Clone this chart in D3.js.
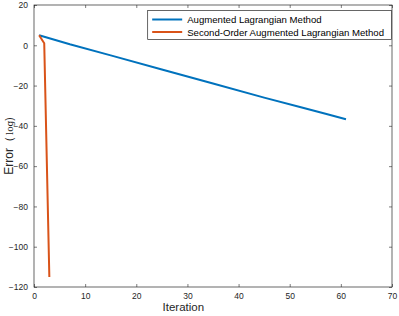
<!DOCTYPE html>
<html>
<head>
<meta charset="utf-8">
<script src="https://cdn.jsdelivr.net/npm/d3@7"></script>
<style>
  body { margin: 0; background: #fff; }
  text { font-family: "Liberation Sans", Arial, sans-serif; }
</style>
</head>
<body>
<script>
// series
var almIter = [1, 3, 7, 15, 25, 35, 45, 52, 57, 61];
var almErr = [5, 3.5, 0.5, -5, -12, -19, -26, -30.6, -34, -36.7];
var soIter = [1, 2, 3];
var soErr = [5, 1, -115];
var seriesNames = ["Augmented Lagrangian Method", "Second-Order Augmented Lagrangian Method"];
var colors = ["#0072BD", "#D95319"];
var xTicks = [0, 10, 20, 30, 40, 50, 60, 70];
var yTicks = [20, 0, -20, -40, -60, -80, -100, -120];

var W = 399, H = 316,
    margin = {top: 5, right: 7, bottom: 29, left: 34},
    width = W - margin.left - margin.right,
    height = H - margin.top - margin.bottom;

var svg = d3.select("body").append("svg")
    .attr("width", W)
    .attr("height", H);

var g = svg.append("g")
    .attr("transform", "translate(" + margin.left + "," + margin.top + ")");

var x = d3.scaleLinear().domain([0, 70]).range([0, width]);
var y = d3.scaleLinear().domain([-120, 20]).range([height, 0]);

var axisColor = "#262626";

function styleAxis(sel, showLabels) {
    sel.select(".domain").remove();
    sel.selectAll("line").attr("stroke", axisColor).attr("stroke-width", 0.6);
    sel.selectAll("text")
        .attr("fill", axisColor)
        .style("font-size", "8.5px");
    if (!showLabels) sel.selectAll("text").remove();
}

g.append("g")
    .attr("transform", "translate(0," + height + ")")
    .call(d3.axisBottom(x).tickValues(xTicks).tickSize(-3).tickPadding(6))
    .call(styleAxis, true);
g.append("g")
    .call(d3.axisTop(x).tickValues(xTicks).tickSize(-3))
    .call(styleAxis, false);
g.append("g")
    .call(d3.axisLeft(y).tickValues(yTicks).tickSize(-3).tickPadding(6))
    .call(styleAxis, true);
g.append("g")
    .attr("transform", "translate(" + width + ",0)")
    .call(d3.axisRight(y).tickValues(yTicks).tickSize(-3))
    .call(styleAxis, false);

// box
g.append("rect")
    .attr("width", width)
    .attr("height", height)
    .attr("fill", "none")
    .attr("stroke", axisColor)
    .attr("stroke-width", 0.7);

var line = d3.line()
    .x(function (d) { return x(d[0]); })
    .y(function (d) { return y(d[1]); });

var series = [
    d3.zip(almIter, almErr),
    d3.zip(soIter, soErr)
];

g.selectAll(".series")
    .data(series)
    .enter().append("path")
    .attr("class", "series")
    .attr("d", line)
    .attr("fill", "none")
    .attr("stroke", function (d, i) { return colors[i]; })
    .attr("stroke-width", 2)
    .attr("stroke-linejoin", "round");

// legend, anchored to the right edge of the axes
var legText = [];
var leg = svg.append("g");
var legBox = leg.append("rect")
    .attr("fill", "#fff")
    .attr("stroke", axisColor)
    .attr("stroke-width", 0.7);
seriesNames.forEach(function (name, i) {
    legText.push(leg.append("text")
        .attr("y", 23 + i * 12.5)
        .attr("fill", "#000")
        .style("font-size", "9.6px")
        .text(name));
});
var textW = d3.max(legText, function (t) { return t.node().getComputedTextLength(); });
var boxRight = 391, textX = boxRight - 7 - textW, boxLeft = textX - 40;
legBox.attr("x", boxLeft + 0.5).attr("y", 10.5)
    .attr("width", boxRight - boxLeft).attr("height", 29);
legText.forEach(function (t, i) {
    t.attr("x", textX);
    leg.append("line")
        .attr("x1", boxLeft + 5).attr("x2", boxLeft + 35)
        .attr("y1", 19.5 + i * 12.5).attr("y2", 19.5 + i * 12.5)
        .attr("stroke", colors[i])
        .attr("stroke-width", 2);
});

// axis labels
svg.append("text")
    .attr("x", margin.left + x(29.2))
    .attr("y", 311)
    .attr("text-anchor", "middle")
    .attr("fill", axisColor)
    .style("font-size", "11.5px")
    .text("Iteration");

var yl = svg.append("text")
    .attr("transform", "translate(13,146) rotate(-90)")
    .attr("text-anchor", "middle")
    .attr("fill", axisColor)
    .style("font-size", "12px");
yl.append("tspan").text("Error");
yl.append("tspan")
    .attr("dx", 7)
    .style("font-size", "10px")
    .text("(");
yl.append("tspan")
    .attr("dx", 3)
    .style("font-family", "'DejaVu Serif', 'Liberation Serif', serif")
    .style("font-size", "9px")
    .text("log");
yl.append("tspan")
    .style("font-size", "10px")
    .text(")");
</script>
</body>
</html>
